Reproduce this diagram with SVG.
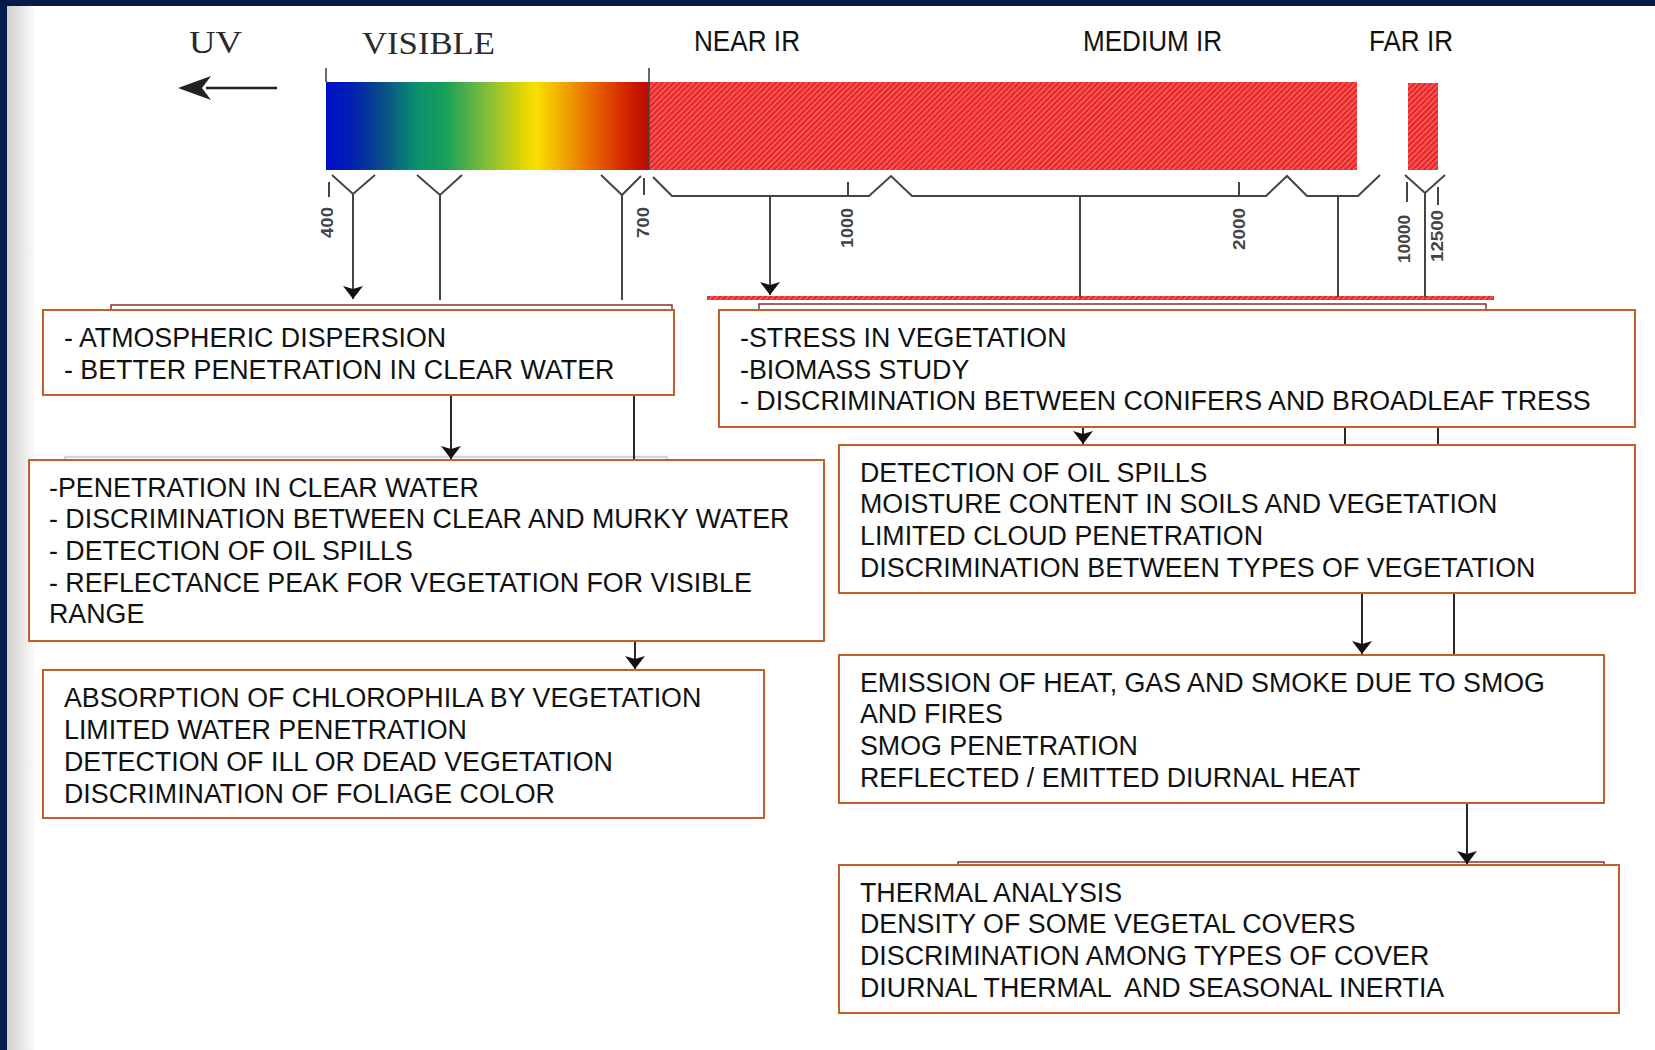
<svg xmlns="http://www.w3.org/2000/svg" width="1655" height="1050" viewBox="0 0 1655 1050">
<defs>
<style>
.box{fill:#fff;stroke:#c1602b;stroke-width:2}
.back{fill:none;stroke:#8a3030;stroke-width:1.5}
.t{font-family:"Liberation Sans",Arial,sans-serif;font-size:26.8px;fill:#111}
.band{font-family:"Liberation Sans Narrow","Liberation Sans",Arial,sans-serif;font-size:30px;fill:#111}
.old{font-family:"Liberation Serif","Times New Roman",serif;font-size:31px;fill:#2a2a2a}
.num{font-family:"Liberation Sans",Arial,sans-serif;font-size:16px;font-weight:bold;fill:#444}
.sc{fill:none;stroke:#444;stroke-width:2}
.cn{fill:none;stroke:#111;stroke-width:1.8}
</style>
<linearGradient id="spec" x1="0" y1="0" x2="1" y2="0">
<stop offset="0" stop-color="#0010c8"/>
<stop offset="0.08" stop-color="#0020b0"/>
<stop offset="0.17" stop-color="#0a4a8a"/>
<stop offset="0.28" stop-color="#0a8f6e"/>
<stop offset="0.37" stop-color="#19a05a"/>
<stop offset="0.51" stop-color="#8cc035"/>
<stop offset="0.62" stop-color="#e8d800"/>
<stop offset="0.65" stop-color="#f8e000"/>
<stop offset="0.74" stop-color="#f0a400"/>
<stop offset="0.82" stop-color="#ea6a00"/>
<stop offset="0.93" stop-color="#d42400"/>
<stop offset="1" stop-color="#b80a00"/>
</linearGradient>
<linearGradient id="shade" x1="0" y1="0" x2="1" y2="0">
<stop offset="0" stop-color="#cfcfcf"/>
<stop offset="1" stop-color="#ffffff"/>
</linearGradient>
<pattern id="hatch" width="4" height="4" patternUnits="userSpaceOnUse" patternTransform="rotate(45)">
<rect width="4" height="4" fill="#e82424"/>
<line x1="1" y1="0" x2="1" y2="4" stroke="#ff7a7a" stroke-width="1.2"/>
</pattern>
<marker id="ah" markerUnits="userSpaceOnUse" viewBox="0 -11 14 22" markerWidth="14" markerHeight="22" refX="13" refY="0" orient="auto">
<path d="M0,-10 L13,0 L0,10 L3,0 Z" fill="#111"/>
</marker>
</defs>
<rect width="1655" height="1050" fill="#fff"/>
<rect x="7" y="6" width="30" height="1044" fill="url(#shade)"/>
<rect width="1655" height="6" fill="#041c4c"/>
<rect width="7" height="1050" fill="#041c4c"/>

<g id="spectrum">
<text class="old" x="189" y="53" textLength="53" lengthAdjust="spacingAndGlyphs">UV</text>
<text class="old" x="362" y="54" textLength="133" lengthAdjust="spacingAndGlyphs">VISIBLE</text>
<text class="band" x="694" y="51" textLength="106" lengthAdjust="spacingAndGlyphs">NEAR IR</text>
<text class="band" x="1083" y="51" textLength="139" lengthAdjust="spacingAndGlyphs">MEDIUM IR</text>
<text class="band" x="1369" y="51" textLength="84" lengthAdjust="spacingAndGlyphs">FAR IR</text>
<line x1="206" y1="88" x2="277" y2="88" stroke="#222" stroke-width="2.5"/>
<path d="M178,88 L211,76 L202,88 L211,100 Z" fill="#222"/>
<rect x="326" y="82" width="323" height="88" fill="url(#spec)"/>
<rect x="649" y="82" width="708" height="88" fill="url(#hatch)"/>
<rect x="1408" y="83" width="30" height="87" fill="url(#hatch)"/>
<path class="sc" d="M326,68 V82 M649,68 V169" stroke="#222" style="stroke-width:1.6"/>
<path class="sc" d="M332,175 L353,194 L375,175 M417,175 L440,195 L462,175 M601,175 L622,195 L641,176"/>
<path class="sc" d="M329,182 V197 M644,178 V195 M848,182 V196 M1239,182 V196 M1407,182 V202 M1438,187 V205"/>
<path class="sc" d="M653,177 L672,196 H869 L891,176 L912,196 H1266 L1287,176 L1307,196 H1358 L1380,175"/>
<path class="sc" d="M1405,175 L1425,193 L1445,175"/>
<text class="num" transform="translate(333,238) rotate(-90)" textLength="31" lengthAdjust="spacingAndGlyphs">400</text>
<text class="num" transform="translate(649,238) rotate(-90)" textLength="31" lengthAdjust="spacingAndGlyphs">700</text>
<text class="num" transform="translate(853,248) rotate(-90)" textLength="40" lengthAdjust="spacingAndGlyphs">1000</text>
<text class="num" transform="translate(1245,250) rotate(-90)" textLength="42" lengthAdjust="spacingAndGlyphs">2000</text>
<text class="num" transform="translate(1410,263) rotate(-90)" textLength="48" lengthAdjust="spacingAndGlyphs">10000</text>
<text class="num" transform="translate(1443,262) rotate(-90)" textLength="52" lengthAdjust="spacingAndGlyphs">12500</text>
<rect x="707" y="296" width="787" height="4" fill="url(#hatch)"/>
</g>

<g id="backs">
<rect class="back" x="111" y="305" width="561" height="60"/>
<rect class="back" x="759" y="304" width="727" height="60"/>
<rect class="back" x="65" y="457" width="602" height="40" opacity="0.3"/>
<rect class="back" x="958" y="862" width="646" height="40"/>
</g>

<g id="connectors">
<path class="sc" d="M353,194 V299" marker-end="url(#ah)"/>
<path class="sc" d="M440,195 V300 M622,195 V300"/>
<path class="sc" d="M770,196 V295" marker-end="url(#ah)"/>
<path class="sc" d="M1080,196 V297 M1338,196 V297 M1425,193 V297"/>
<path class="cn" d="M451,396 V459" marker-end="url(#ah)"/>
<path class="cn" d="M634,396 V460"/>
<path class="cn" d="M635,642 V669" marker-end="url(#ah)"/>
<path class="cn" d="M1083,428 V444" marker-end="url(#ah)"/>
<path class="cn" d="M1345,428 V445 M1438,428 V445"/>
<path class="cn" d="M1362,594 V654" marker-end="url(#ah)"/>
<path class="cn" d="M1454,594 V655"/>
<path class="cn" d="M1467,804 V864" marker-end="url(#ah)"/>
</g>

<g id="boxA">
<rect class="box" x="43" y="310" width="631" height="85"/>
<text class="t" x="64" y="347">- ATMOSPHERIC DISPERSION</text>
<text class="t" x="64" y="379">- BETTER PENETRATION IN CLEAR WATER</text>
</g>
<g id="boxB">
<rect class="box" x="719" y="310" width="916" height="117"/>
<text class="t" x="740" y="347">-STRESS IN VEGETATION</text>
<text class="t" x="740" y="379">-BIOMASS STUDY</text>
<text class="t" x="740" y="410">- DISCRIMINATION BETWEEN CONIFERS AND BROADLEAF TRESS</text>
</g>
<g id="boxC">
<rect class="box" x="29" y="460" width="795" height="181"/>
<text class="t" x="49" y="497">-PENETRATION IN CLEAR WATER</text>
<text class="t" x="49" y="528">- DISCRIMINATION BETWEEN CLEAR AND MURKY WATER</text>
<text class="t" x="49" y="560">- DETECTION OF OIL SPILLS</text>
<text class="t" x="49" y="592">- REFLECTANCE PEAK FOR VEGETATION FOR VISIBLE</text>
<text class="t" x="49" y="623">RANGE</text>
</g>
<g id="boxD">
<rect class="box" x="839" y="445" width="796" height="148"/>
<text class="t" x="860" y="482">DETECTION OF OIL SPILLS</text>
<text class="t" x="860" y="513">MOISTURE CONTENT IN SOILS AND VEGETATION</text>
<text class="t" x="860" y="545">LIMITED CLOUD PENETRATION</text>
<text class="t" x="860" y="577">DISCRIMINATION BETWEEN TYPES OF VEGETATION</text>
</g>
<g id="boxE">
<rect class="box" x="839" y="655" width="765" height="148"/>
<text class="t" x="860" y="692">EMISSION OF HEAT, GAS AND SMOKE DUE TO SMOG</text>
<text class="t" x="860" y="723">AND FIRES</text>
<text class="t" x="860" y="755">SMOG PENETRATION</text>
<text class="t" x="860" y="787">REFLECTED / EMITTED DIURNAL HEAT</text>
</g>
<g id="boxF">
<rect class="box" x="839" y="865" width="780" height="148"/>
<text class="t" x="860" y="902">THERMAL ANALYSIS</text>
<text class="t" x="860" y="933">DENSITY OF SOME VEGETAL COVERS</text>
<text class="t" x="860" y="965">DISCRIMINATION AMONG TYPES OF COVER</text>
<text class="t" x="860" y="997" style="white-space:pre">DIURNAL THERMAL  AND SEASONAL INERTIA</text>
</g>
<g id="boxG">
<rect class="box" x="43" y="670" width="721" height="148"/>
<text class="t" x="64" y="707">ABSORPTION OF CHLOROPHILA BY VEGETATION</text>
<text class="t" x="64" y="739">LIMITED WATER PENETRATION</text>
<text class="t" x="64" y="771">DETECTION OF ILL OR DEAD VEGETATION</text>
<text class="t" x="64" y="803">DISCRIMINATION OF FOLIAGE COLOR</text>
</g>
</svg>
